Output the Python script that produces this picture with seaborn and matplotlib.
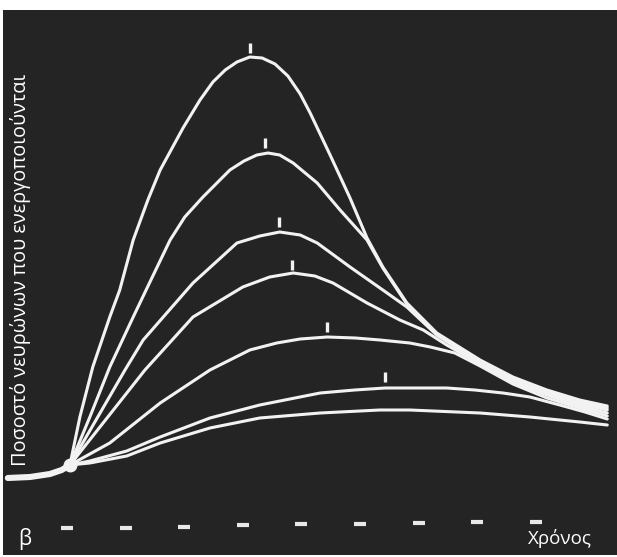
import matplotlib
matplotlib.use("Agg")
import matplotlib.pyplot as plt
import seaborn as sns
import pandas as pd

# ---------------- data (time in marker units, % of neurons activated) ----------------
c1_t = [0.05, 0.22, 0.44, 0.73, 0.90, 1.13, 1.38, 1.59, 1.98, 2.27, 2.49, 2.70, 2.90, 3.12,
        3.33, 3.55, 3.77, 3.98, 4.15, 4.49, 4.83, 5.12, 5.39, 5.80, 6.31, 7.05, 7.61, 8.19,
        8.75, 9.22]
c1_y = [0, 9.6, 19.6, 29.6, 35.0, 45.0, 53.0, 59.0, 67.4, 73.0, 76.6, 79.0, 80.6, 81.6,
        81.4, 80.2, 77.8, 74.2, 70.4, 62.0, 53.4, 45.4, 39.6, 32.4, 26.4, 21.0, 17.6, 15.0,
        13.0, 11.8]

c2_t = [0.05, 0.39, 0.73, 1.13, 1.35, 1.76, 2.01, 2.32, 2.78, 3.02, 3.24, 3.43, 3.63, 3.86,
        4.27, 4.66, 5.12, 5.39, 5.80, 6.31, 7.05, 7.61, 8.19, 8.75, 9.22]
c2_y = [0, 9.6, 19.6, 29.6, 35.0, 45.0, 49.6, 53.6, 59.0, 60.8, 62.0, 62.4, 62.0, 60.4,
        56.4, 51.0, 45.0, 39.4, 32.2, 26.2, 20.8, 17.4, 14.8, 12.6, 11.4]

c3_t = [0.05, 0.99, 1.30, 2.15, 2.90, 3.29, 3.63, 3.98, 4.27, 4.83, 5.39, 5.80, 6.31, 7.05,
        7.61, 8.19, 8.75, 9.22]
c3_y = [0, 19.0, 25.0, 36.4, 44.4, 45.8, 46.6, 46.0, 44.4, 39.6, 35.0, 31.6, 26.0, 20.4,
        17.0, 14.4, 12.2, 11.0]

c4_t = [0.05, 1.33, 2.15, 3.00, 3.46, 3.86, 4.23, 4.54, 5.12, 5.68, 6.08, 6.48, 7.05, 7.61,
        8.19, 8.75, 9.22]
c4_y = [0, 19.0, 29.6, 35.6, 37.6, 38.4, 37.8, 36.4, 32.4, 29.0, 27.0, 24.0, 20.2, 16.6,
        14.0, 11.8, 10.4]

c5_t = [0.05, 0.73, 1.59, 2.44, 3.12, 3.58, 3.98, 4.44, 4.92, 5.34, 5.85, 6.20, 6.62, 7.05,
        7.61, 8.19, 8.75, 9.22]
c5_y = [0, 4.4, 12.4, 19.0, 23.0, 24.4, 25.2, 25.6, 25.4, 25.0, 24.4, 23.6, 22.4, 19.8,
        16.2, 13.4, 11.4, 9.8]

c6_t = [0.05, 0.39, 1.02, 1.59, 2.44, 3.29, 4.32, 4.91, 5.43, 5.85, 6.48, 6.96, 7.44, 7.90,
        8.41, 8.84, 9.22]
c6_y = [0, 0.8, 2.8, 5.6, 9.4, 12.0, 14.4, 15.0, 15.4, 15.4, 15.4, 15.0, 14.4, 13.6,
        12.0, 10.6, 9.2]

c7_t = [0.05, 0.39, 1.02, 1.59, 2.44, 3.29, 4.32, 5.34, 5.85, 7.05, 7.90, 8.75, 9.22]
c7_y = [0, 0.4, 1.8, 4.4, 7.4, 9.4, 10.4, 11.0, 11.0, 10.4, 9.6, 8.6, 8.0]

base_t = [-1.01, -0.63, -0.29, -0.09, 0.05]
base_y = [-2.6, -2.4, -1.8, -1.0, 0.0]

peak_t = [3.12, 3.38, 3.62, 3.84, 4.44, 5.43]
peak_y = [83.4, 64.4, 48.6, 40.0, 27.6, 17.6]

time_marks = [0, 1, 2, 3, 4, 5, 6, 7, 8]
time_mark_y = [-12.6, -12.6, -12.4, -12.0, -11.8, -11.8, -11.6, -11.4, -11.4]

ylabel = "Ποσοστό νευρώνων που ενεργοποιούνται"
xlabel = "Χρόνος"
panel = "β"

curves = {"1": (c1_t, c1_y), "2": (c2_t, c2_y), "3": (c3_t, c3_y), "4": (c4_t, c4_y),
          "5": (c5_t, c5_y), "6": (c6_t, c6_y), "7": (c7_t, c7_y)}
rows = []
for name, (ts, ys) in curves.items():
    for i, (t, y) in enumerate(zip(ts, ys)):
        rows.append({"curve": name, "order": i, "t": t, "y": y})
df = pd.DataFrame(rows)

# ---------------- figure ----------------
sns.set_theme(style="white")
plt.rcParams["font.family"] = ["Open Sans", "DejaVu Sans"]

W, H = 617, 557
fig = plt.figure(figsize=(W / 100, H / 100), dpi=100, facecolor="white")
ax = fig.add_axes([3 / W, 2 / H, 614 / W, 545 / H])
bg = "#242424"
ax.set_facecolor(bg)

line_col = "#f2f2f2"
sns.lineplot(data=df, x="t", y="y", units="curve", estimator=None, sort=False,
             color=line_col, linewidth=2.2, ax=ax, legend=False,
             solid_capstyle="round", solid_joinstyle="round")
sns.lineplot(x=base_t, y=base_y, sort=False, color=line_col, linewidth=4.4, ax=ax,
             legend=False, solid_capstyle="round")
ax.plot(base_t[-1:], base_y[-1:], marker="o", ms=9, color=line_col, ls="none")

ax.plot(peak_t, peak_y, ls="none", marker="|", ms=6.5, mew=2.4, color=line_col)
ax.plot(time_marks, time_mark_y, ls="none", marker="_", ms=8.5, mew=3.0, color="#e8e8e8")

ax.set_xlim(-1.092, 9.386)
ax.set_ylim(-18, 91)
ax.set_xticks([])
ax.set_yticks([])
ax.set_xlabel("")
ax.set_ylabel("")
for s in ax.spines.values():
    s.set_visible(False)

fig.text(25 / W, 1 - 539 / H, panel, color="white", fontsize=15, ha="center", va="center")
fig.text(560 / W, 1 - 538 / H, xlabel, color="white", fontsize=13.5, ha="center", va="center")
fig.text(21 / W, 1 - 270 / H, ylabel, color="white", fontsize=14.3, rotation=90,
         ha="center", va="center")

fig.savefig("out.png", dpi=100, facecolor="white")
